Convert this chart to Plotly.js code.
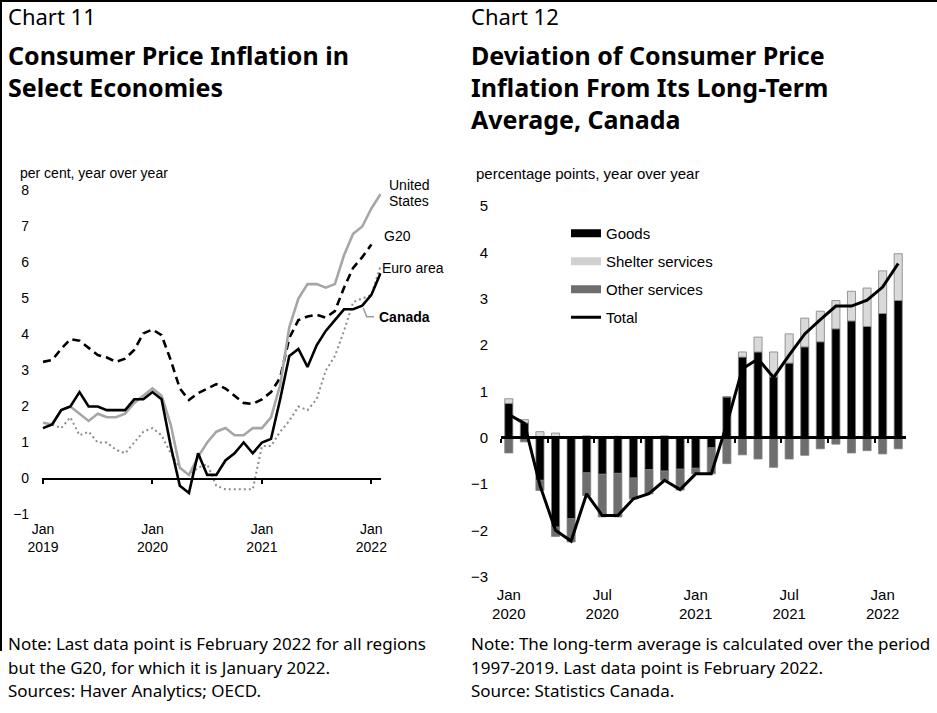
<!DOCTYPE html>
<html><head><meta charset="utf-8">
<script src="https://cdn.plot.ly/plotly-3.0.1.min.js"></script>
<style>html,body{margin:0;padding:0;background:#fff}#chart{width:937px;height:713px}</style>
</head><body><div id="chart"></div>
<script>
// ---------- Chart 11 data (per cent, y/y) ----------
const months11 = ['Jan 2019','Feb 2019','Mar 2019','Apr 2019','May 2019','Jun 2019','Jul 2019','Aug 2019','Sep 2019','Oct 2019','Nov 2019','Dec 2019',
  'Jan 2020','Feb 2020','Mar 2020','Apr 2020','May 2020','Jun 2020','Jul 2020','Aug 2020','Sep 2020','Oct 2020','Nov 2020','Dec 2020',
  'Jan 2021','Feb 2021','Mar 2021','Apr 2021','May 2021','Jun 2021','Jul 2021','Aug 2021','Sep 2021','Oct 2021','Nov 2021','Dec 2021',
  'Jan 2022','Feb 2022'];
const canada = [1.4,1.5,1.9,2.0,2.4,2.0,2.0,1.9,1.9,1.9,2.2,2.2,2.4,2.2,0.9,-0.2,-0.4,0.7,0.1,0.1,0.5,0.7,1.0,0.7,1.0,1.1,2.2,3.4,3.6,3.1,3.7,4.1,4.4,4.7,4.7,4.8,5.1,5.7];
const unitedStates = [1.55,1.5,1.9,2.0,1.8,1.6,1.8,1.7,1.7,1.8,2.1,2.3,2.5,2.3,1.5,0.3,0.1,0.6,1.0,1.3,1.4,1.2,1.2,1.4,1.4,1.7,2.6,4.2,5.0,5.4,5.4,5.3,5.4,6.2,6.8,7.0,7.5,7.9];
const euroArea = [1.4,1.5,1.4,1.7,1.2,1.3,1.0,1.0,0.8,0.7,1.0,1.3,1.4,1.2,0.7,0.3,0.1,0.3,0.4,-0.2,-0.3,-0.3,-0.3,-0.3,0.9,0.9,1.3,1.6,2.0,1.9,2.2,3.0,3.4,4.1,4.9,5.0,5.1,5.9];
const g20 = [3.24,3.29,3.6,3.87,3.83,3.64,3.43,3.36,3.24,3.33,3.57,4.03,4.14,3.98,3.29,2.5,2.18,2.37,2.5,2.62,2.5,2.3,2.1,2.07,2.2,2.4,2.8,3.9,4.4,4.5,4.55,4.47,4.65,5.3,5.85,6.15,6.5];
const ticks11 = ['Jan 2019','Jan 2020','Jan 2021','Jan 2022'];
const tickText11 = ['Jan<br>2019','Jan<br>2020','Jan<br>2021','Jan<br>2022'];
const yTicks11 = [-1,0,1,2,3,4,5,6,7,8];

// ---------- Chart 12 data (percentage points) ----------
const months12 = ['Jan 2020','Feb 2020','Mar 2020','Apr 2020','May 2020','Jun 2020','Jul 2020','Aug 2020','Sep 2020','Oct 2020','Nov 2020','Dec 2020',
  'Jan 2021','Feb 2021','Mar 2021','Apr 2021','May 2021','Jun 2021','Jul 2021','Aug 2021','Sep 2021','Oct 2021','Nov 2021','Dec 2021',
  'Jan 2022','Feb 2022'];
const goods = [0.74,0.32,-0.92,-1.93,-1.75,-0.76,-0.79,-0.77,-0.87,-0.69,-0.72,-0.68,-0.66,-0.22,0.88,1.74,1.85,1.31,1.61,1.96,2.07,2.35,2.52,2.40,2.68,2.96];
const shelterServices = [0.10,0.07,0.13,0.10,0.02,0.04,0.02,0.03,0.01,0.02,0.04,0.02,0.01,0.00,0.00,0.11,0.32,0.54,0.63,0.62,0.66,0.61,0.64,0.83,0.92,1.01];
const otherServices = [-0.33,-0.09,-0.22,-0.20,-0.50,-0.49,-0.92,-0.94,-0.45,-0.52,-0.20,-0.45,-0.12,-0.56,-0.56,-0.37,-0.46,-0.64,-0.46,-0.38,-0.24,-0.14,-0.33,-0.28,-0.35,-0.24];
const total = [0.50,0.31,-1.03,-2.00,-2.23,-1.21,-1.68,-1.68,-1.32,-1.21,-0.92,-1.12,-0.78,-0.78,0.30,1.49,1.70,1.30,1.78,2.24,2.55,2.84,2.84,2.97,3.25,3.76];
const ticks12 = ['Jan 2020','Jul 2020','Jan 2021','Jul 2021','Jan 2022'];
const tickText12 = ['Jan<br>2020','Jul<br>2020','Jan<br>2021','Jul<br>2021','Jan<br>2022'];
const yTicks12 = [-3,-2,-1,0,1,2,3,4,5];
const boundaryTicks12 = [-0.5,2.5,5.5,8.5,11.5,14.5,17.5,20.5,23.5];

// ---------- helpers ----------
const W = 937, H = 713;
const fx = x => x / W;
const fy = y => 1 - y / H;
const AX = 'Liberation Sans, Arial, sans-serif';
const TF = 'Noto Sans, Open Sans, sans-serif';
const BAR_EDGE = {color:'#808080', width:0.8};

const data = [
  {type:'scatter', mode:'lines', x:months11, y:euroArea, name:'Euro area', xaxis:'x', yaxis:'y', showlegend:false,
   line:{color:'#8c8c8c', width:2, dash:'2px,3px'}},
  {type:'scatter', mode:'lines', x:months11.slice(0, g20.length), y:g20, name:'G20', xaxis:'x', yaxis:'y', showlegend:false,
   line:{color:'#000', width:2.6, dash:'8px,5px'}},
  {type:'scatter', mode:'lines', x:months11, y:unitedStates, name:'United States', xaxis:'x', yaxis:'y', showlegend:false,
   line:{color:'#a6a6a6', width:2.6}},
  {type:'scatter', mode:'lines', x:months11, y:canada, name:'Canada', xaxis:'x3', yaxis:'y', showlegend:false,
   line:{color:'#000', width:2.6}},

  {type:'bar', x:months12, y:goods, name:'Goods', xaxis:'x2', yaxis:'y2', showlegend:false,
   marker:{color:'#000', line:BAR_EDGE}},
  {type:'bar', x:months12, y:shelterServices, name:'Shelter services', xaxis:'x2', yaxis:'y2', showlegend:false,
   marker:{color:'#d9d9d9', line:BAR_EDGE}},
  {type:'bar', x:months12, y:otherServices, name:'Other services', xaxis:'x2', yaxis:'y2', showlegend:false,
   marker:{color:'#6e6e6e', line:BAR_EDGE}},

  // legend keys for the stacked bars
  {type:'scatter', mode:'lines', x:[null], y:[null], xaxis:'x2', yaxis:'y2', name:'Goods', legendgroup:'a',
   line:{color:'#000', width:8}, hoverinfo:'skip'},
  {type:'scatter', mode:'lines', x:[null], y:[null], xaxis:'x2', yaxis:'y2', name:'Shelter services', legendgroup:'b',
   line:{color:'#d0d0d0', width:8}, hoverinfo:'skip'},
  {type:'scatter', mode:'lines', x:[null], y:[null], xaxis:'x2', yaxis:'y2', name:'Other services', legendgroup:'c',
   line:{color:'#6e6e6e', width:8}, hoverinfo:'skip'},

  {type:'scatter', mode:'lines', x:months12, y:total, name:'Total', xaxis:'x4', yaxis:'y2', legendgroup:'d',
   line:{color:'#000', width:3}}
];

const tickFont11 = {family:AX, size:14, color:'#000'};
const tickFont12 = {family:AX, size:15, color:'#000'};
const noteFont = {family:TF, size:17, color:'#000'};
const headFont = {family:TF, size:22, color:'#000'};
const titleFont = {family:TF, size:25, color:'#000'};

function txt(text, x, y, font) {
  return {text:text, x:fx(x), y:fy(y), xref:'paper', yref:'paper', xanchor:'left', yanchor:'middle', showarrow:false, font:font};
}

const layout = {
  width:W, height:H, margin:{l:0, r:0, t:0, b:0},
  paper_bgcolor:'#fff', plot_bgcolor:'rgba(0,0,0,0)',
  barmode:'relative', bargap:0.48,
  showlegend:true,
  legend:{x:fx(566), y:fy(217), xanchor:'left', yanchor:'top', bgcolor:'rgba(0,0,0,0)', borderwidth:0,
    font:{family:AX, size:15, color:'#000'}, traceorder:'grouped', tracegroupgap:5.5, itemclick:false, itemdoubleclick:false},

  xaxis:{domain:[fx(42.1), fx(381.4)], anchor:'y', type:'category', categoryorder:'array', categoryarray:months11,
    range:[-0.1, 37.1], tickmode:'array', tickvals:ticks11, ticktext:tickText11, ticks:'',
    showline:false, showgrid:false, zeroline:false, tickfont:tickFont11, ticklabelstandoff:4, fixedrange:true},
  yaxis:{domain:[fy(514.5), fy(190.5)], anchor:'x', range:[-1, 8], tickmode:'array', tickvals:yTicks11, ticks:'',
    showline:false, showgrid:false, zeroline:false, tickfont:tickFont11, ticklabelstandoff:12, fixedrange:true},
  xaxis3:{overlaying:'x', anchor:'free', position:fy(478.5), type:'category', categoryorder:'array', categoryarray:months11,
    range:[-0.1, 37.1], tickmode:'array', tickvals:ticks11, ticks:'outside', ticklen:4, tickwidth:2, tickcolor:'#000',
    showline:true, linecolor:'#000', linewidth:2.5, showticklabels:false, showgrid:false, zeroline:false,
    layer:'above traces', fixedrange:true},

  xaxis2:{domain:[fx(501), fx(906)], anchor:'y2', type:'category', categoryorder:'array', categoryarray:months12,
    range:[-0.5, 25.5], tickmode:'array', tickvals:ticks12, ticktext:tickText12, ticks:'',
    showline:false, showgrid:false, zeroline:false, tickfont:tickFont12, ticklabelstandoff:7, fixedrange:true},
  yaxis2:{domain:[fy(576.7), fy(206)], anchor:'x2', range:[-3, 5], tickmode:'array', tickvals:yTicks12, ticks:'',
    showline:false, showgrid:false, zeroline:false, tickfont:tickFont12, ticklabelstandoff:12, fixedrange:true},
  xaxis4:{overlaying:'x2', anchor:'free', position:fy(437.3), type:'category', categoryorder:'array', categoryarray:months12,
    range:[-0.5, 25.5], tickmode:'array', tickvals:boundaryTicks12, ticks:'outside', ticklen:4, tickwidth:2, tickcolor:'#000',
    showline:true, linecolor:'#000', linewidth:2.5, showticklabels:false, showgrid:false, zeroline:false,
    layer:'above traces', fixedrange:true},

  shapes:[
    {type:'line', xref:'paper', yref:'paper', x0:0, x1:1, y0:fy(1), y1:fy(1), line:{color:'#000', width:2}},
    {type:'line', xref:'paper', yref:'paper', x0:fx(1), x1:fx(1), y0:fy(0), y1:fy(651), line:{color:'#000', width:2}},
    {type:'path', xref:'paper', yref:'paper',
     path:'M '+fx(363.3)+' '+fy(308)+' L '+fx(366.7)+' '+fy(316.7)+' L '+fx(374)+' '+fy(316.7),
     line:{color:'#9a9a9a', width:1.5}}
  ],

  annotations:[
    txt('Chart 11', 6, 16, headFont),
    txt('<b>Consumer Price Inflation in</b>', 6, 55, titleFont),
    txt('<b>Select Economies</b>', 6, 87, titleFont),
    txt('Chart 12', 469, 16, headFont),
    txt('<b>Deviation of Consumer Price</b>', 469, 55, titleFont),
    txt('<b>Inflation From Its Long-Term</b>', 469, 87, titleFont),
    txt('<b>Average, Canada</b>', 469, 119, titleFont),

    txt('per cent, year over year', 18, 173, {family:AX, size:14, color:'#000'}),
    txt('percentage points, year over year', 474, 174, {family:AX, size:15, color:'#000'}),

    txt('United', 387, 185, tickFont11),
    txt('States', 387, 201, tickFont11),
    txt('G20', 381.5, 236, tickFont11),
    txt('Euro area', 380, 267.5, tickFont11),
    txt('<b>Canada</b>', 377, 317, tickFont11),

    txt('Note: Last data point is February 2022 for all regions', 6, 643, noteFont),
    txt('but the G20, for which it is January 2022.', 6, 667, noteFont),
    txt('Sources: Haver Analytics; OECD.', 6, 690, noteFont),
    txt('Note: The long-term average is calculated over the period', 469, 643, noteFont),
    txt('1997-2019. Last data point is February 2022.', 469, 667, noteFont),
    txt('Source: Statistics Canada.', 469, 690, noteFont)
  ]
};

Plotly.newPlot('chart', data, layout, {displayModeBar:false, staticPlot:true});
</script>
</body></html>
